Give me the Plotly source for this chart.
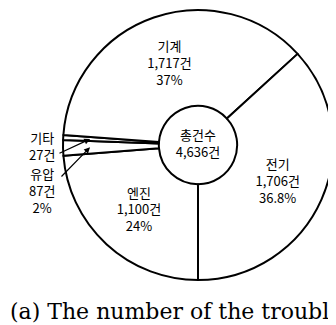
import math
import plotly.graph_objects as go

# ---- data ----
categories = ["엔진", "유압", "기타", "기계", "전기"]
counts = [1100, 87, 27, 1717, 1706]
pct_labels = ["24%", "2%", "", "37%", "36.8%"]
center_label = ["총건수", "4,636건"]
caption = "(a) The number of the troubles"

# the page body has an 8px margin, so the figure is drawn 8px smaller
OFF = 8
W, H = 336 - OFF, 325 - OFF
FONT_KR = "Noto Sans CJK KR"
ROTATION = 180


def px(x):
    return (x - OFF) / W


def py(y):
    return 1 - (y - OFF) / H


DOM_X = [px(63), px(333)]
DOM_Y = [py(280), py(10)]


def label_text(name, n, pct):
    parts = [name, f"{n:,}건"]
    if pct:
        parts.append(pct)
    return "<br>".join(parts)


texts = [label_text(c, n, p) for c, n, p in zip(categories, counts, pct_labels)]
small = [n / sum(counts) < 0.03 for n in counts]
inside_texts = ["" if s else t for s, t in zip(small, texts)]

fig = go.Figure(
    go.Pie(
        labels=categories,
        values=counts,
        text=inside_texts,
        textinfo="text",
        textposition="inside",
        insidetextorientation="horizontal",
        hole=0.29,
        sort=False,
        direction="clockwise",
        rotation=ROTATION,
        marker=dict(colors=["white"] * len(counts), line=dict(color="black", width=2)),
        textfont=dict(family=FONT_KR, size=13, color="black"),
        domain=dict(x=DOM_X, y=DOM_Y),
        title=dict(text="<br>".join(center_label), position="middle center",
                   font=dict(family=FONT_KR, size=13, color="black")),
        showlegend=False,
    )
)

# arrows for the small slices, aimed at slice mid-angles computed from the data
cx = (DOM_X[0] + DOM_X[1]) / 2 * W
cy = (1 - (DOM_Y[0] + DOM_Y[1]) / 2) * H
R = min((DOM_X[1] - DOM_X[0]) * W, (DOM_Y[1] - DOM_Y[0]) * H) / 2
total = sum(counts)
label_pos = {"기타": (42, 146), "유압": (42, 190)}
tail_pos = {"기타": (58, 154), "유압": (60, 178)}
cum = 0
annotations = []
for name, n, t, s in zip(categories, counts, texts, small):
    mid = ROTATION + 360 * (cum + n / 2) / total
    cum += n
    if not s:
        continue
    a = math.radians(mid)
    tx = cx + 0.8 * R * math.sin(a)
    ty = cy - 0.8 * R * math.cos(a)
    lx, ly = label_pos[name]
    annotations.append(dict(x=px(lx), y=py(ly), xref="paper", yref="paper",
                            xanchor="center", yanchor="middle",
                            text=t, showarrow=False,
                            font=dict(family=FONT_KR, size=13, color="black")))
    sx, sy = tail_pos[name]
    sx, sy = sx - OFF, sy - OFF
    annotations.append(dict(x=tx / W, y=1 - ty / H, xref="paper", yref="paper",
                            text="", showarrow=True, arrowhead=2, arrowsize=1,
                            arrowwidth=1.2, arrowcolor="black",
                            ax=sx - tx, ay=sy - ty))

annotations.append(dict(x=px(8), y=py(311), xref="paper", yref="paper",
                        xanchor="left", yanchor="middle", text=caption,
                        showarrow=False,
                        font=dict(family="DejaVu Serif", size=22, color="black")))

fig.update_layout(
    width=W, height=H,
    margin=dict(l=0, r=0, t=0, b=0),
    paper_bgcolor="white", plot_bgcolor="white",
    annotations=annotations,
)

fig.write_html("out.html")
